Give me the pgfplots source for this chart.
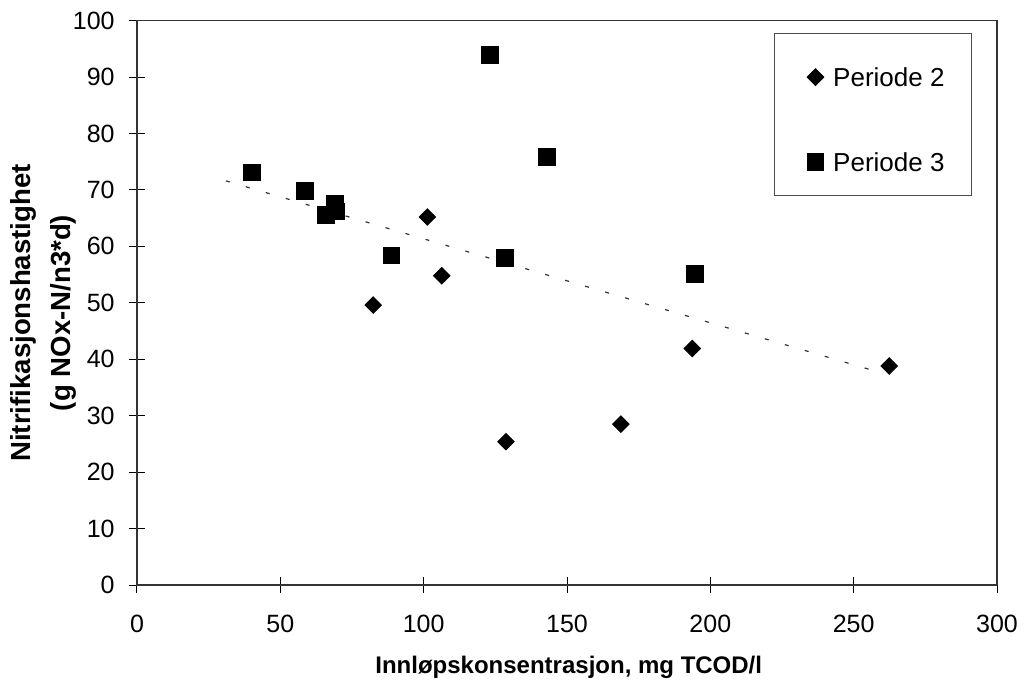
\documentclass[border=0pt]{standalone}
\usepackage{fontspec}
\setmainfont{Liberation Sans}
\usepackage{pgfplots}
\pgfplotsset{compat=1.18}

\begin{document}
\begin{tikzpicture}
\begin{axis}[
  name=ax,
  scale only axis,
  width=430pt, height=282.2pt,
  xmin=0, xmax=300, ymin=0, ymax=100,
  xtick={0,50,...,300}, ytick={0,10,...,100},
  xtick pos=bottom, ytick pos=left,
  tick align=center, major tick length=8pt,
  axis line style={black!80, line width=0.6pt},
  tick style={black, line width=0.5pt},
  /pgf/number format/assume math mode=true,
  ticklabel style={font=\fontsize{12.5}{15}\selectfont, inner sep=0pt},
  yticklabel style={anchor=east, xshift=-7pt},
  xticklabel style={anchor=north, yshift=-11pt},
  xlabel={Innløpskonsentrasjon, mg TCOD/l},
  xlabel style={font=\bfseries\fontsize{12}{15}\selectfont,
    at={(axis description cs:0.502,0)}, anchor=base, yshift=-44pt},
  ylabel={Nitrifikasjonshastighet\\(g NOx-N/n3*d)},
  ylabel style={font=\bfseries\fontsize{13.8}{20}\selectfont, align=center,
    at={(axis description cs:-0.1093,0.482)}, anchor=center},
  legend style={at={(axis description cs:1,1)}, anchor=north east,
    xshift=-12.5pt, yshift=-6.3pt, draw=black!70, line width=0.5pt,
    inner xsep=13.5pt, inner ysep=10.8pt, row sep=31.5pt, column sep=4.5pt,
    nodes={inner sep=0pt},
    font=\fontsize{13}{15}\selectfont, cells={anchor=base west}},
  legend image code/.code={
    \path (-2.5pt,4.6pt) (8.2pt,4.6pt);
    \draw[#1] plot coordinates {(4.1pt,4.6pt)};},
]
% trendline
\addplot[forget plot, black!80, line width=0.6pt, dash pattern=on 2pt off 8.4pt]
  coordinates {(31,71.6) (260.2,37.5)};

\addplot[only marks, mark=square*, mark size=2.92pt,
  mark options={rotate=45, fill=black, draw=black}]
coordinates {
  (82.4,49.6) (101.3,65.2) (106.3,54.8) (128.7,25.4)
  (168.8,28.5) (193.7,41.9) (262.4,38.8)};
\addlegendentry{\rule{0pt}{15.5pt}Periode 2}

\addplot[only marks, mark=square*, mark size=4.15pt,
  mark options={fill=black, draw=black}]
coordinates {
  (40.0,73.1) (58.6,69.8) (65.9,65.6) (69.1,67.6) (69.6,66.2)
  (88.8,58.4) (123.1,93.9) (128.4,58.0) (142.9,75.9) (194.6,55.1)};
\addlegendentry{Periode 3}
\end{axis}
\pgfresetboundingbox
\path ([shift={(-68.5pt,-52pt)}]ax.south west) rectangle ([shift={(13.5pt,10.3pt)}]ax.north east);
\end{tikzpicture}
\end{document}
